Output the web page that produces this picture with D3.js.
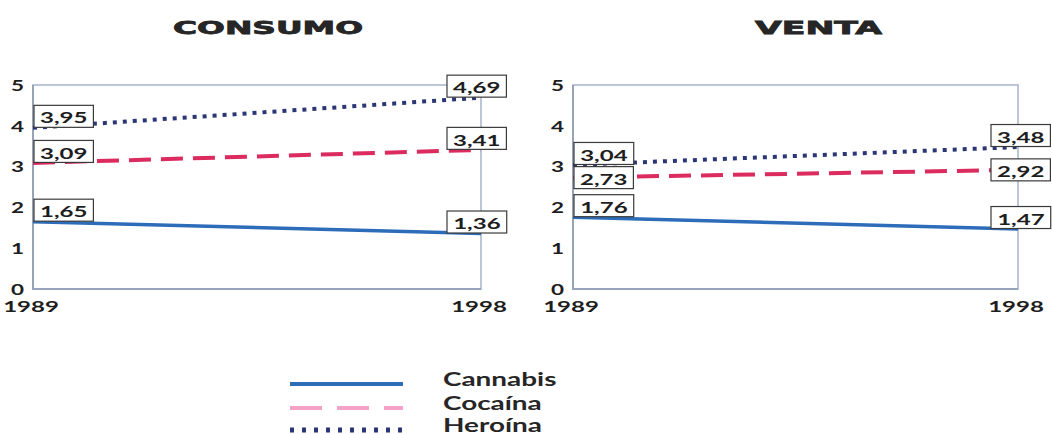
<!DOCTYPE html>
<html>
<head>
<meta charset="utf-8">
<script src="https://cdn.jsdelivr.net/npm/d3@7/dist/d3.min.js"></script>
<style>
  body { margin: 0; background: #fff; }
  svg { display: block; }
  .num { font-family: Lato, "DejaVu Sans", sans-serif; font-weight: 700; fill: #1e1e1e; }
  .title { font-family: "DejaVu Sans", sans-serif; font-weight: 700; fill: #262626; }
  .legend { font-family: Lato, "DejaVu Sans", sans-serif; font-weight: 700; fill: #262626; }
</style>
</head>
<body>
<div id="chart"></div>
<script>
// data
var years = [1989, 1998];
var series = ['Cannabis', 'Cocaína', 'Heroína'];
var consumo = [[1.65, 1.36], [3.09, 3.41], [3.95, 4.69]];
var venta = [[1.76, 1.47], [2.73, 2.92], [3.04, 3.48]];
var yTicks = [0, 1, 2, 3, 4, 5];
var titles = ['CONSUMO', 'VENTA'];

// where each value box sits: 'above' = on top of the point, 'mid' = centred on it
var consumoPlace = [['above', 'above'], ['above', 'above'], ['above', 'above']];
var ventaPlace = [['above', 'above'], ['mid', 'mid'], ['above', 'above']];

// styles
var lineColors = ['#2c6cb8', '#dc2b5f', '#2b3675'];
var legendColors = ['#2c6cb8', '#f4a2c8', '#2b3675'];
var lineDash = [null, '22,10', '4,6'];
var legendDash = [null, '32,15', '4,8'];
var sx = 1.55; // the scan is stretched sideways, so is the text

var width = 1052, height = 434;
var svg = d3.select('#chart').append('svg')
  .attr('width', width)
  .attr('height', height);

// place a text stretched horizontally, returns the group
function stretchedText(parent, x, y, str, cls, size, anchor, baseline) {
  var g = parent.append('g').attr('transform', 'translate(' + x + ',' + y + ')');
  g.append('text')
    .attr('class', cls)
    .attr('transform', 'scale(' + sx + ',1)')
    .attr('text-anchor', anchor || 'start')
    .attr('dominant-baseline', baseline || 'auto')
    .style('font-size', size + 'px')
    .text(str);
  return g;
}

var panels = [
  {title: titles[0], data: consumo, place: consumoPlace, left: 33, right: 481, titleX: 173, titleW: 190, rightBoxOff: -34},
  {title: titles[1], data: venta, place: ventaPlace, left: 573, right: 1018, titleX: 755, titleW: 127, rightBoxOff: -27}
];
var plotTop = 85, plotBottom = 289;

panels.forEach(function (p) {
  var x = d3.scaleLinear().domain(d3.extent(years)).range([p.left, p.right]);
  var y = d3.scaleLinear().domain([0, 5]).range([plotBottom, plotTop]);
  var g = svg.append('g');

  // title
  g.append('text')
    .attr('class', 'title')
    .attr('x', p.titleX)
    .attr('y', 34)
    .attr('textLength', p.titleW)
    .attr('lengthAdjust', 'spacingAndGlyphs')
    .style('font-size', '18px')
    .style('stroke', '#262626')
    .style('stroke-width', 0.8)
    .text(p.title);

  // frame
  g.append('rect')
    .attr('x', x(years[0]))
    .attr('y', y(5))
    .attr('width', x(years[1]) - x(years[0]))
    .attr('height', y(0) - y(5))
    .attr('fill', 'none')
    .attr('stroke', '#aab8cf')
    .attr('stroke-width', 1.6);
  g.append('path')
    .attr('d', 'M' + x(years[0]) + ',' + y(5) + 'V' + y(0) + 'H' + x(years[1]))
    .attr('fill', 'none')
    .attr('stroke', '#8f9bb0')
    .attr('stroke-width', 1.6);

  // y tick labels
  yTicks.forEach(function (t) {
    stretchedText(g, x(years[0]) - 9, y(t), String(t), 'num', 14.5, 'end', 'central');
  });
  // x labels
  years.forEach(function (yr) {
    stretchedText(g, x(yr) - 2, 306, String(yr), 'num', 15.5, 'middle', 'central');
  });

  // lines
  var line = d3.line()
    .x(function (d, i) { return x(years[i]); })
    .y(function (d) { return y(d); });
  p.data.forEach(function (vals, s) {
    g.append('path')
      .datum(vals)
      .attr('d', line)
      .attr('fill', 'none')
      .attr('stroke', lineColors[s])
      .attr('stroke-width', s === 0 ? 3.5 : 4)
      .attr('stroke-dasharray', lineDash[s]);
  });

  // value boxes
  p.data.forEach(function (vals, s) {
    vals.forEach(function (v, i) {
      var label = v.toFixed(2).replace('.', ',');
      var bg = g.append('g');
      var rect = bg.append('rect');
      var t = stretchedText(bg, 0, 0, label, 'num', 15.5, 'middle', 'central');
      var w = t.node().getBBox().width + 12;
      var h = 22;
      var bx = i === 0 ? x(years[i]) + 1 : x(years[i]) + p.rightBoxOff;
      var by = p.place[s][i] === 'mid' ? y(v) - h / 2 : y(v) - h - 0.5;
      rect.attr('x', bx).attr('y', by).attr('width', w).attr('height', h)
        .attr('fill', '#fff').attr('stroke', '#3a3a3a').attr('stroke-width', 1.2);
      t.attr('transform', 'translate(' + (bx + w / 2) + ',' + (by + h / 2 + 1) + ')');
    });
  });
});

// legend
var legendY = [384, 408, 430];
var legend = svg.append('g');
series.forEach(function (name, s) {
  legend.append('line')
    .attr('x1', 290).attr('x2', 403)
    .attr('y1', legendY[s]).attr('y2', legendY[s])
    .attr('stroke', legendColors[s])
    .attr('stroke-width', s === 2 ? 5 : 4)
    .attr('stroke-dasharray', legendDash[s]);
  stretchedText(legend, 443, legendY[s] + 2, name, 'legend', 18, 'start', 'auto');
});
</script>
</body>
</html>
